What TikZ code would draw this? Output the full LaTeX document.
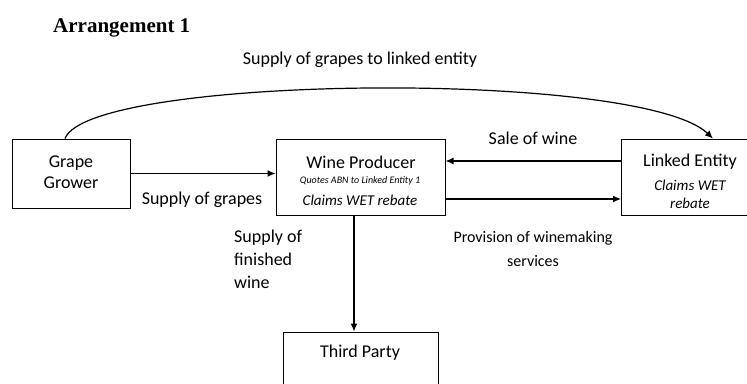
\documentclass[tikz,border=0pt]{standalone}
\usepackage{fontspec}
\setmainfont{Carlito}
\newfontfamily\headfont{Liberation Serif}
\usetikzlibrary{arrows.meta}

\begin{document}
\begin{tikzpicture}[x=1pt,y=-1pt,
  box/.style={draw,line width=1pt,inner sep=0pt},
  flow/.style={-{Latex[length=8pt,width=7pt]},line width=1.2pt},
  txt/.style={inner sep=0pt,align=center,font=\fontsize{18}{21}\selectfont},
  note/.style={inner sep=0pt,align=center,font=\fontsize{15}{18}\selectfont\itshape}]
\useasboundingbox (0,0) rectangle (747,383);
\clip (0,0) rectangle (747,383);
% boxes
\node[box,minimum width=118pt,minimum height=69pt] (grower) at (71,173.5) {};
\node[box,minimum width=169pt,minimum height=76pt] (producer) at (360.5,177) {};
\node[box,minimum width=136pt,minimum height=76pt] (linked) at (689.5,177) {};
\node[box,minimum width=155pt,minimum height=76pt] (third) at (360.5,370) {};
% box texts
\node[txt] (grower-txt) at (71,172.5) {Grape\\Grower};
\node[txt] (producer-txt) at (361,162) {Wine Producer};
\node[inner sep=0pt,font=\fontsize{10}{12}\selectfont\itshape] (producer-abn) at (360,181) {Quotes ABN to Linked Entity 1};
\node[note] (producer-wet) at (360,200) {Claims WET rebate};
\node[txt] (linked-txt) at (690,162) {Linked Entity};
\node[note] (linked-wet) at (690,194) {Claims WET\\rebate};
\node[txt] (third-txt) at (360,353) {Third Party};
% title
\node[anchor=west,inner sep=0pt,font=\headfont\bfseries\fontsize{21}{25}\selectfont] (title) at (53,28) {Arrangement 1};
% connectors
\draw[flow] (grower.east) -- (grower.east -| producer.west);
\draw[flow] ([yshift=16pt]linked.west) -- ([yshift=16pt]producer.east);
\draw[flow] ([yshift=-22pt]producer.east) -- ([yshift=-22pt]linked.west);
\draw[flow] ([xshift=-6.5pt]producer.south) -- ([xshift=-6.5pt]producer.south |- third.north);
\draw[flow] ([xshift=-6pt]grower.north) .. controls +(25,-64) and +(-73,-69) .. ([xshift=23.5pt]linked.north);
% labels
\node[txt] (lbl-direct) at (360,60) {Supply of grapes to linked entity};
\node[txt] (lbl-grapes) at (202,200) {Supply of grapes};
\node[txt] (lbl-sale) at (533,138) {Sale of wine};
\node[txt,align=left,anchor=north west,font=\fontsize{18}{23}\selectfont] (lbl-finished) at (234,230) {Supply of\\finished\\wine};
\node[inner sep=0pt,align=center,font=\fontsize{16}{24}\selectfont] (lbl-service) at (533,249) {Provision of winemaking\\services};
\end{tikzpicture}
\end{document}
